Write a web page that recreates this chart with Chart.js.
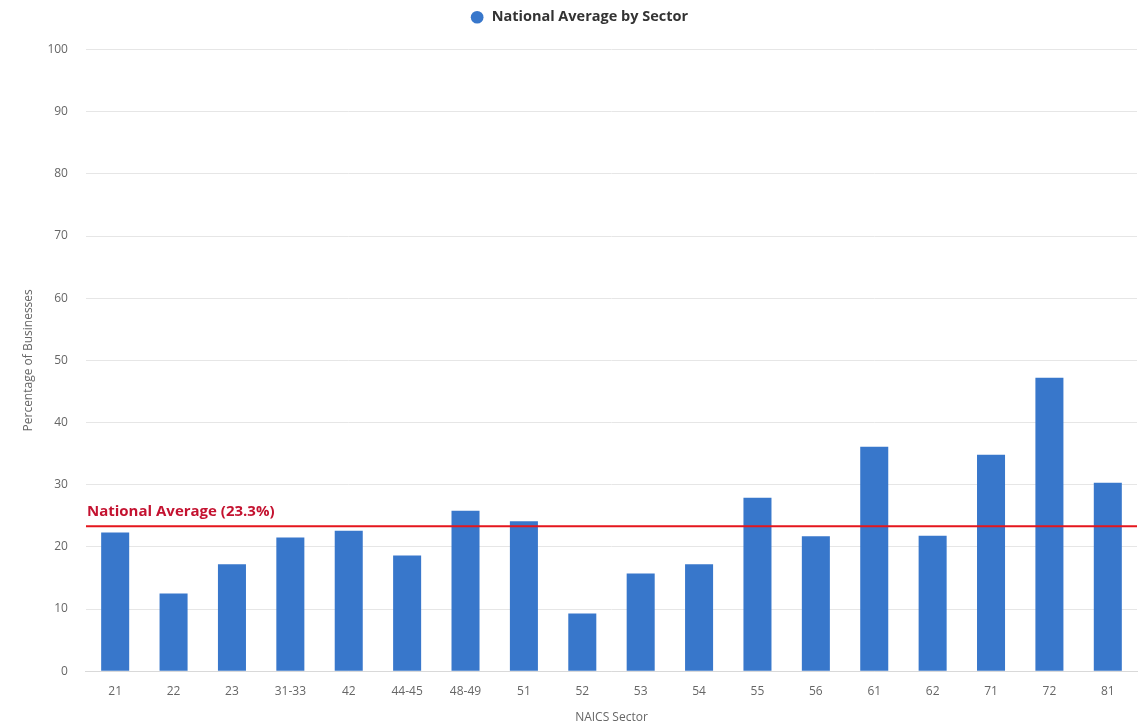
<!DOCTYPE html>
<html>
<head>
<meta charset="utf-8">
<script src="https://cdn.jsdelivr.net/npm/chart.js@4.4.0/dist/chart.umd.min.js"></script>
<style>
html,body{margin:0;padding:0;background:#fff;}
#wrap{width:1148px;height:726px;position:relative;}
</style>
</head>
<body>
<div id="wrap"><canvas id="c" width="1148" height="726"></canvas></div>
<script>
const categories = ['21','22','23','31-33','42','44-45','48-49','51','52','53','54','55','56','61','62','71','72','81'];
const sectorValues = [22.3,12.5,17.2,21.5,22.6,18.6,25.8,24.1,9.3,15.7,17.2,27.9,21.7,36.1,21.8,34.8,47.2,30.3];
const yTicks = [0,10,20,30,40,50,60,70,80,90,100];
const nationalAverage = 23.3;
const seriesName = 'National Average by Sector';
const avgLabel = 'National Average (23.3%)';

const FONT = "'Open Sans', 'Noto Sans', sans-serif";

const legendSpacer = {
  id: 'legendSpacer',
  beforeInit(chart) {
    const origFit = chart.legend.fit;
    chart.legend.fit = function () {
      origFit.bind(chart.legend)();
      this.height += 15;
    };
  }
};

const avgLinePlugin = {
  id: 'avgLine',
  afterDatasetsDraw(chart) {
    const {ctx, chartArea, scales} = chart;
    const y = scales.y.getPixelForValue(nationalAverage);
    ctx.save();
    ctx.strokeStyle = '#e5161d';
    ctx.lineWidth = 2;
    ctx.beginPath();
    ctx.moveTo(chartArea.left, y);
    ctx.lineTo(chartArea.right, y);
    ctx.stroke();
    ctx.fillStyle = '#c41230';
    ctx.font = "bold 15px " + FONT;
    ctx.textBaseline = 'middle';
    ctx.textAlign = 'left';
    ctx.fillText(avgLabel, chartArea.left + 1, y - 15);
    ctx.restore();
  }
};

new Chart(document.getElementById('c'), {
  type: 'bar',
  data: {
    labels: categories,
    datasets: [{
      label: seriesName,
      data: sectorValues,
      backgroundColor: '#3877cb',
      borderWidth: 0,
      barPercentage: 0.8,
      categoryPercentage: 0.6
    }]
  },
  options: {
    responsive: false,
    animation: false,
    layout: { padding: { left: 21, right: 11, top: 0, bottom: 1 } },
    plugins: {
      legend: {
        position: 'top',
        labels: {
          usePointStyle: true,
          pointStyle: 'circle',
          boxWidth: 20,
          boxHeight: 9,
          padding: 10,
          color: '#333',
          font: { family: FONT, size: 14.5, weight: 'bold' }
        }
      },
      tooltip: { enabled: false }
    },
    scales: {
      x: {
        grid: { display: false, drawTicks: false },
        border: { display: true, color: '#d9d9d9' },
        ticks: { color: '#666', font: { family: FONT, size: 12 }, padding: 13 },
        title: { display: true, text: 'NAICS Sector', color: '#666', font: { family: FONT, size: 12 }, padding: { top: -1, bottom: 0 } }
      },
      y: {
        min: 0, max: 100,
        afterBuildTicks(axis) { axis.ticks = yTicks.map(v => ({ value: v })); },
        grid: { color: '#e6e6e6', drawTicks: false },
        border: { display: false },
        ticks: { color: '#666', font: { family: FONT, size: 12 }, padding: 18 },
        title: { display: true, text: 'Percentage of Businesses', color: '#666', font: { family: FONT, size: 12 }, padding: { top: 0, bottom: -6 } }
      }
    }
  },
  plugins: [legendSpacer, avgLinePlugin]
});
</script>
</body>
</html>
